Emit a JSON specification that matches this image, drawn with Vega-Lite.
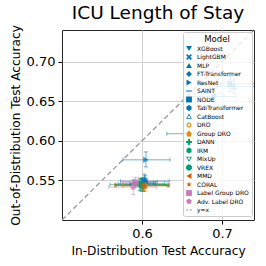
{
  "$schema": "https://vega.github.io/schema/vega-lite/v6.json",
  "width": 192,
  "height": 190,
  "autosize": "none",
  "padding": {"left": 62, "top": 30, "right": 12, "bottom": 46},
  "title": {"text": "ICU Length of Stay", "font": "DejaVu Sans", "fontSize": 18.5, "fontWeight": "normal", "color": "#000", "offset": 2},
  "datasets": {
    "pts": [
      {"model": "XGBoost", "x": 0.690, "y": 0.656, "xlo": 0.655, "xhi": 0.717, "ylo": 0.648, "yhi": 0.664},
      {"model": "LightGBM", "x": 0.710, "y": 0.672, "xlo": 0.674, "xhi": 0.750, "ylo": 0.662, "yhi": 0.681},
      {"model": "MLP", "x": 0.659, "y": 0.609, "xlo": 0.631, "xhi": 0.688, "ylo": 0.601, "yhi": 0.617},
      {"model": "FT-Transformer", "x": 0.601, "y": 0.546, "xlo": 0.585, "xhi": 0.617, "ylo": 0.539, "yhi": 0.553},
      {"model": "ResNet", "x": 0.605, "y": 0.576, "xlo": 0.576, "xhi": 0.635, "ylo": 0.567, "yhi": 0.586},
      {"model": "SAINT", "x": 0.603, "y": 0.547, "xlo": 0.590, "xhi": 0.615, "ylo": 0.540, "yhi": 0.554},
      {"model": "NODE", "x": 0.603, "y": 0.549, "xlo": 0.573, "xhi": 0.634, "ylo": 0.541, "yhi": 0.558},
      {"model": "TabTransformer", "x": 0.604, "y": 0.548, "xlo": 0.589, "xhi": 0.619, "ylo": 0.541, "yhi": 0.556},
      {"model": "CatBoost", "x": 0.715, "y": 0.6685, "xlo": 0.693, "xhi": 0.750, "ylo": 0.660, "yhi": 0.677},
      {"model": "DRO", "x": 0.603, "y": 0.543, "xlo": 0.575, "xhi": 0.632, "ylo": 0.536, "yhi": 0.550},
      {"model": "Group DRO", "x": 0.604, "y": 0.544, "xlo": 0.577, "xhi": 0.634, "ylo": 0.537, "yhi": 0.551},
      {"model": "DANN", "x": 0.598, "y": 0.545, "xlo": 0.566, "xhi": 0.630, "ylo": 0.537, "yhi": 0.553},
      {"model": "IRM", "x": 0.597, "y": 0.5447, "xlo": 0.560, "xhi": 0.6315, "ylo": 0.537, "yhi": 0.552},
      {"model": "MixUp", "x": 0.599, "y": 0.546, "xlo": 0.570, "xhi": 0.628, "ylo": 0.539, "yhi": 0.553},
      {"model": "VREX", "x": 0.600, "y": 0.544, "xlo": 0.567, "xhi": 0.633, "ylo": 0.536, "yhi": 0.552},
      {"model": "MMD", "x": 0.602, "y": 0.5435, "xlo": 0.566, "xhi": 0.6346, "ylo": 0.536, "yhi": 0.551},
      {"model": "CORAL", "x": 0.601, "y": 0.544, "xlo": 0.568, "xhi": 0.633, "ylo": 0.537, "yhi": 0.551},
      {"model": "Label Group DRO", "x": 0.592, "y": 0.5474, "xlo": 0.575, "xhi": 0.610, "ylo": 0.541, "yhi": 0.554},
      {"model": "Adv. Label DRO", "x": 0.589, "y": 0.5416, "xlo": 0.5585, "xhi": 0.618, "ylo": 0.532, "yhi": 0.551}
    ],
    "diag": [
      {"x": 0.5, "y": 0.5},
      {"x": 0.75, "y": 0.75}
    ]
  },
  "encoding": {},
  "layer": [
    {
      "data": {"name": "diag"},
      "mark": {"type": "line", "color": "#999999", "strokeDash": [5, 3], "strokeWidth": 1.3, "clip": true},
      "encoding": {
        "x": {"field": "x", "type": "quantitative", "scale": {"domain": [0.515, 0.7365]}},
        "y": {"field": "y", "type": "quantitative", "scale": {"domain": [0.5166, 0.7358]}}
      }
    },
    {
      "data": {"name": "pts"},
      "mark": {"type": "rule", "strokeWidth": 1, "strokeOpacity": 0.55, "clip": true},
      "encoding": {
        "x": {"field": "xlo", "type": "quantitative"},
        "x2": {"field": "xhi"},
        "y": {"field": "y", "type": "quantitative"},
        "color": {"field": "model", "type": "nominal", "title": "Model"}
      }
    },
    {
      "data": {"name": "pts"},
      "mark": {"type": "rule", "strokeWidth": 1, "strokeOpacity": 0.55, "clip": true},
      "encoding": {
        "x": {"field": "x", "type": "quantitative"},
        "y": {"field": "ylo", "type": "quantitative"},
        "y2": {"field": "yhi"},
        "color": {"field": "model", "type": "nominal", "title": "Model"}
      }
    },
    {
      "data": {"name": "pts"},
      "mark": {"type": "tick", "orient": "vertical", "size": 4, "thickness": 1, "opacity": 0.55, "clip": true},
      "encoding": {
        "x": {"field": "xlo", "type": "quantitative"},
        "y": {"field": "y", "type": "quantitative"},
        "color": {"field": "model", "type": "nominal", "title": "Model"}
      }
    },
    {
      "data": {"name": "pts"},
      "mark": {"type": "tick", "orient": "vertical", "size": 4, "thickness": 1, "opacity": 0.55, "clip": true},
      "encoding": {
        "x": {"field": "xhi", "type": "quantitative"},
        "y": {"field": "y", "type": "quantitative"},
        "color": {"field": "model", "type": "nominal", "title": "Model"}
      }
    },
    {
      "data": {"name": "pts"},
      "mark": {"type": "tick", "orient": "horizontal", "size": 4, "thickness": 1, "opacity": 0.55, "clip": true},
      "encoding": {
        "x": {"field": "x", "type": "quantitative"},
        "y": {"field": "ylo", "type": "quantitative"},
        "color": {"field": "model", "type": "nominal", "title": "Model"}
      }
    },
    {
      "data": {"name": "pts"},
      "mark": {"type": "tick", "orient": "horizontal", "size": 4, "thickness": 1, "opacity": 0.55, "clip": true},
      "encoding": {
        "x": {"field": "x", "type": "quantitative"},
        "y": {"field": "yhi", "type": "quantitative"},
        "color": {"field": "model", "type": "nominal", "title": "Model"}
      }
    },
    {
      "data": {"name": "pts"},
      "mark": {"type": "point", "filled": true, "size": 42, "opacity": 0.7, "clip": true},
      "encoding": {
        "x": {"field": "x", "type": "quantitative", "title": "In-Distribution Test Accuracy", "axis": {"values": [0.6, 0.7], "format": ".1f"}},
        "y": {"field": "y", "type": "quantitative", "title": "Out-of-Distribution Test Accuracy", "axis": {"values": [0.55, 0.6, 0.65, 0.7], "format": ".2f"}},
        "color": {
          "field": "model", "type": "nominal", "title": "Model",
          "scale": {
            "domain": ["XGBoost", "LightGBM", "MLP", "FT-Transformer", "ResNet", "SAINT", "NODE", "TabTransformer", "CatBoost", "DRO", "Group DRO", "DANN", "IRM", "MixUp", "VREX", "MMD", "CORAL", "Label Group DRO", "Adv. Label DRO", "y=x"],
            "range": ["#0173b2", "#0173b2", "#0173b2", "#0173b2", "#0173b2", "#0173b2", "#0173b2", "#0173b2", "#0173b2", "#de8f05", "#de8f05", "#029e73", "#029e73", "#029e73", "#029e73", "#d55e00", "#d55e00", "#cc78bc", "#cc78bc", "#999999"]
          },
          "legend": {"symbolOpacity": 1, "symbolStrokeWidth": 0, "encode": {"symbols": {"update": {"opacity": {"value": 1}, "fillOpacity": {"value": 1}, "strokeOpacity": {"value": 0}}}}}
        },
        "shape": {
          "field": "model", "type": "nominal", "title": "Model",
          "scale": {
            "domain": ["XGBoost", "LightGBM", "MLP", "FT-Transformer", "ResNet", "SAINT", "NODE", "TabTransformer", "CatBoost", "DRO", "Group DRO", "DANN", "IRM", "MixUp", "VREX", "MMD", "CORAL", "Label Group DRO", "Adv. Label DRO", "y=x"],
            "range": [
              "triangle-down",
              "M-1,-0.6L-0.6,-1L0,-0.4L0.6,-1L1,-0.6L0.4,0L1,0.6L0.6,1L0,0.4L-0.6,1L-1,0.6L-0.4,0Z",
              "triangle-up",
              "diamond",
              "triangle-right",
              "M-1,-0.18H1V0.18H-1Z",
              "square",
              "M0,-1L0.87,-0.5L0.87,0.5L0,1L-0.87,0.5L-0.87,-0.5Z",
              "M0,-1L1,0.8L-1,0.8Z M0,-0.4L-0.6,0.5L0.6,0.5Z",
              "M-0.85,0A0.85,0.85 0 1,0 0.85,0A0.85,0.85 0 1,0 -0.85,0Z M-0.45,0A0.45,0.45 0 1,1 0.45,0A0.45,0.45 0 1,1 -0.45,0Z",
              "M0,-1L0.9,-0.1L0.6,1L-0.6,1L-0.9,-0.1Z",
              "M-0.35,-1H0.35V-0.35H1V0.35H0.35V1H-0.35V0.35H-1V-0.35H-0.35Z",
              "M0,-1L0.87,-0.5L0.87,0.5L0,1L-0.87,0.5L-0.87,-0.5Z",
              "M-1,-0.8L1,-0.8L0,1Z M-0.5,-0.5L0,0.4L0.5,-0.5Z",
              "M-0.41,-1H0.41L1,-0.41V0.41L0.41,1H-0.41L-1,0.41V-0.41Z",
              "triangle-left",
              "M0,-1L0.235,-0.324L0.951,-0.309L0.380,0.124L0.588,0.809L0,0.4L-0.588,0.809L-0.380,0.124L-0.951,-0.309L-0.235,-0.324Z",
              "square",
              "M0,-1L0.951,-0.309L0.588,0.809L-0.588,0.809L-0.951,-0.309Z",
              "M-1,-0.13H-0.25V0.13H-1Z M0.25,-0.13H1V0.13H0.25Z"
            ]
          },
          "legend": {"symbolOpacity": 1, "symbolStrokeWidth": 0, "encode": {"symbols": {"update": {"opacity": {"value": 1}, "fillOpacity": {"value": 1}, "strokeOpacity": {"value": 0}}}}}
        }
      }
    }
  ],
  "config": {
    "font": "DejaVu Sans",
    "view": {"stroke": "#262626", "strokeWidth": 1},
    "axis": {
      "grid": true, "gridColor": "#d3d3d3", "gridWidth": 1,
      "domain": false, "ticks": true, "tickColor": "#000", "tickSize": 4, "tickWidth": 1,
      "labelFont": "DejaVu Sans", "labelFontSize": 13, "labelColor": "#000", "labelPadding": 3,
      "titleFont": "DejaVu Sans", "titleFontSize": 12.2, "titleFontWeight": "normal", "titleColor": "#000", "titlePadding": 4
    },
    "legend": {
      "orient": "top-right", "offset": 2,
      "fillColor": "rgba(255,255,255,0.8)", "strokeColor": "#cccccc", "cornerRadius": 2, "padding": 3,
      "titleFont": "DejaVu Sans", "titleFontSize": 8.5, "titleFontWeight": "normal", "titleColor": "#000", "titleAnchor": "middle", "titlePadding": 2,
      "labelFont": "DejaVu Sans", "labelFontSize": 6, "labelColor": "#000", "labelOffset": 5,
      "symbolSize": 34, "symbolStrokeWidth": 0, "rowPadding": 2.5
    }
  }
}
